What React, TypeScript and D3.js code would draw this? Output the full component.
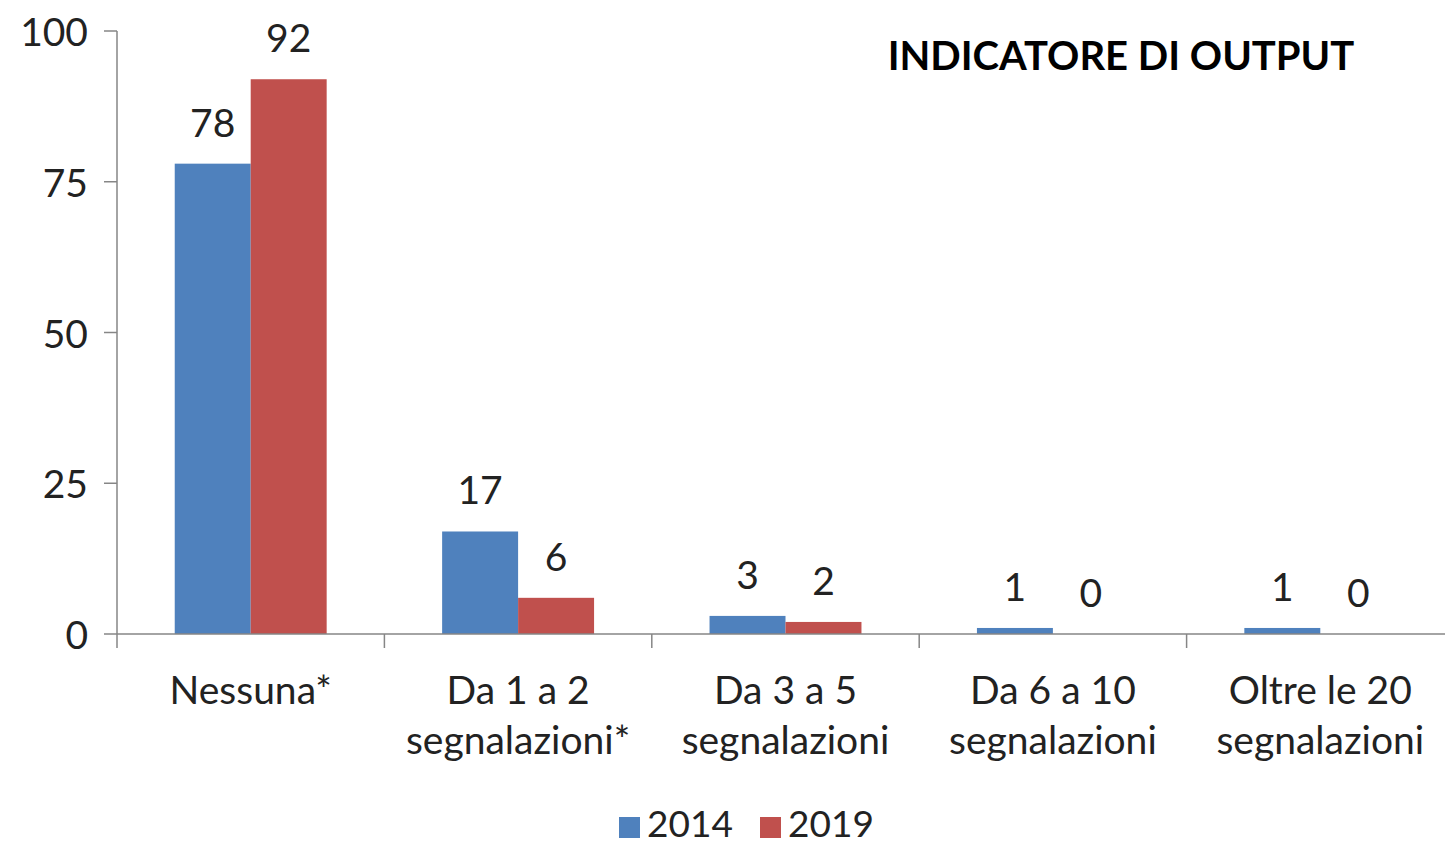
import React from "react";
import * as d3 from "d3";

const categories = [
  ["Nessuna*"],
  ["Da 1 a 2", "segnalazioni*"],
  ["Da 3 a 5", "segnalazioni"],
  ["Da 6 a 10", "segnalazioni"],
  ["Oltre le 20", "segnalazioni"],
];
const series2014 = [78, 17, 3, 1, 1];
const series2019 = [92, 6, 2, 0, 0];
const seriesNames = ["2014", "2019"];
const colors = ["#4F81BD", "#C0504D"];
const yTicks = [0, 25, 50, 75, 100];
const title = "INDICATORE DI OUTPUT";

const W = 1445;
const H = 845;
const FONT = "Lato, 'Open Sans', sans-serif";
const FS = 39;

export default function App() {
  const x0 = 117;
  const x1 = 117 + 267.4 * 5;
  const yTop = 31;
  const yBot = 634;
  const x = d3.scaleBand<number>().domain(d3.range(5)).range([x0, x1]).paddingInner(0).paddingOuter(0);
  const inner = d3.scaleBand<number>().domain([0, 1]).range([0, x.bandwidth()]).paddingInner(0).paddingOuter(0.76);
  const y = d3.scaleLinear().domain([0, 100]).range([yBot, yTop]);
  const data = [series2014, series2019];
  return (
    <svg width={W} height={H} style={{ position: "absolute", left: 0, top: 0, background: "#fff" }}>
      <rect width={W} height={H} fill="#fff" />
      {/* y axis */}
      <line x1={x0} x2={x0} y1={yTop} y2={yBot} stroke="#868686" strokeWidth={1.5} />
      {yTicks.map((t) => (
        <g key={t}>
          <line x1={x0 - 13} x2={x0} y1={y(t)} y2={y(t)} stroke="#868686" strokeWidth={1.5} />
          <text x={88} y={y(t)} textAnchor="end" dominantBaseline="central" fontFamily={FONT} fontSize={FS} fill="#222">
            {t}
          </text>
        </g>
      ))}
      {/* bars */}
      {data.map((s, si) =>
        s.map((v, i) => {
          const bx = (x(i) as number) + (inner(si) as number);
          return (
            <g key={`${si}-${i}`}>
              <rect x={bx} y={y(v)} width={inner.bandwidth()} height={yBot - y(v)} fill={colors[si]} />
              <text
                x={bx + inner.bandwidth() / 2}
                y={y(v) - 27}
                textAnchor="middle"
                fontFamily={FONT}
                fontSize={FS}
                fill="#222"
              >
                {v}
              </text>
            </g>
          );
        })
      )}
      {/* x axis */}
      <line x1={x0} x2={W} y1={yBot} y2={yBot} stroke="#868686" strokeWidth={1.5} />
      {d3.range(6).map((i) => {
        const tx = x0 + x.step() * i;
        return <line key={i} x1={tx} x2={tx} y1={yBot} y2={yBot + 14} stroke="#868686" strokeWidth={1.5} />;
      })}
      {categories.map((lines, i) => (
        <text
          key={i}
          x={(x(i) as number) + x.bandwidth() / 2}
          textAnchor="middle"
          fontFamily={FONT}
          fontSize={FS}
          fill="#222"
        >
          {lines.map((l, j) => (
            <tspan key={j} x={(x(i) as number) + x.bandwidth() / 2} y={704 + j * 50}>
              {l}
            </tspan>
          ))}
        </text>
      ))}
      {/* legend */}
      {seriesNames.map((n, i) => {
        const lx = 619 + i * 141;
        return (
          <g key={n}>
            <rect x={lx} y={817} width={21} height={21} fill={colors[i]} />
            <text x={lx + 28} y={837} fontFamily={FONT} fontSize={37} fill="#222">
              {n}
            </text>
          </g>
        );
      })}
      {/* title */}
      <text x={1121} y={70} textAnchor="middle" fontFamily={FONT} fontWeight="bold" fontSize={40} fill="#000">
        {title}
      </text>
    </svg>
  );
}
